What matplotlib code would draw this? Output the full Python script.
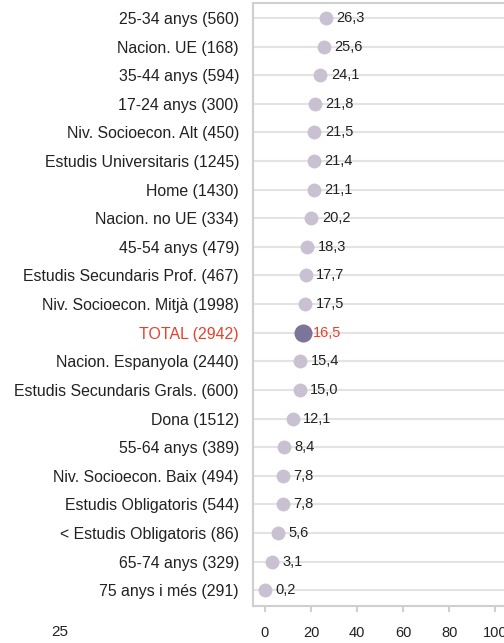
import numpy as np
import matplotlib.pyplot as plt

plt.rcParams['font.family'] = ['Liberation Sans', 'DejaVu Sans']

labels = ['25-34 anys (560)', 'Nacion. UE (168)', '35-44 anys (594)', '17-24 anys (300)',
          'Niv. Socioecon. Alt (450)', 'Estudis Universitaris (1245)', 'Home (1430)',
          'Nacion. no UE (334)', '45-54 anys (479)', 'Estudis Secundaris Prof. (467)',
          'Niv. Socioecon. Mitjà (1998)', 'TOTAL (2942)', 'Nacion. Espanyola (2440)',
          'Estudis Secundaris Grals. (600)', 'Dona (1512)', '55-64 anys (389)',
          'Niv. Socioecon. Baix (494)', 'Estudis Obligatoris (544)',
          '< Estudis Obligatoris (86)', '65-74 anys (329)', '75 anys i més (291)']
values = [26.3, 25.6, 24.1, 21.8, 21.5, 21.4, 21.1, 20.2, 18.3, 17.7, 17.5, 16.5,
          15.4, 15.0, 12.1, 8.4, 7.8, 7.8, 5.6, 3.1, 0.2]
xticks = [0, 20, 40, 60, 80, 100]
total_label = 'TOTAL (2942)'

fig = plt.figure(figsize=(5.04, 6.43), dpi=100)
ax = fig.add_axes([253/504, 37/643, 256/504, 603/643])

y = np.arange(len(values))
for yi in y:
    ax.axhline(yi, color='#e3e3e3', lw=1.5, zorder=0)

for yi, v, lab in zip(y, values, labels):
    if lab == total_label:
        ax.plot(v, yi, 'o', ms=13, color='#7d7499', mec='none', zorder=3)
        ax.annotate(f'{v:.1f}'.replace('.', ','), (v, yi), xytext=(7, 0),
                    textcoords='offset points', va='center', ha='left',
                    fontsize=10.5, color='#e8402a')
    else:
        ax.plot(v, yi, 'o', ms=10, color='#c9c1d1', mec='none', zorder=3)
        ax.annotate(f'{v:.1f}'.replace('.', ','), (v, yi), xytext=(7.5, 0),
                    textcoords='offset points', va='center', ha='left',
                    fontsize=10.5, color='#222222')

ax.set_xlim(-5.2, 106)
ax.set_ylim(len(values) - 0.45, -0.52)
ax.set_yticks(y)
ax.set_yticklabels(labels, fontsize=11.4, color='#222222')
for t in ax.get_yticklabels():
    if t.get_text() == total_label:
        t.set_color('#e8402a')
ax.tick_params(axis='y', length=0, pad=10)
ax.set_xticks(xticks)
ax.set_xticklabels([str(x) for x in xticks], fontsize=10.5, color='#222222')
ax.tick_params(axis='x', length=4.5, width=1.5, color='#d0d0d0', pad=10)
for s in ax.spines.values():
    s.set_color('#cfcfcf')
    s.set_linewidth(1.5)

fig.text(60/504, 1 - 632/643, '25', fontsize=11, color='#222222', ha='center', va='center')

fig.savefig('out.png', dpi=100)
